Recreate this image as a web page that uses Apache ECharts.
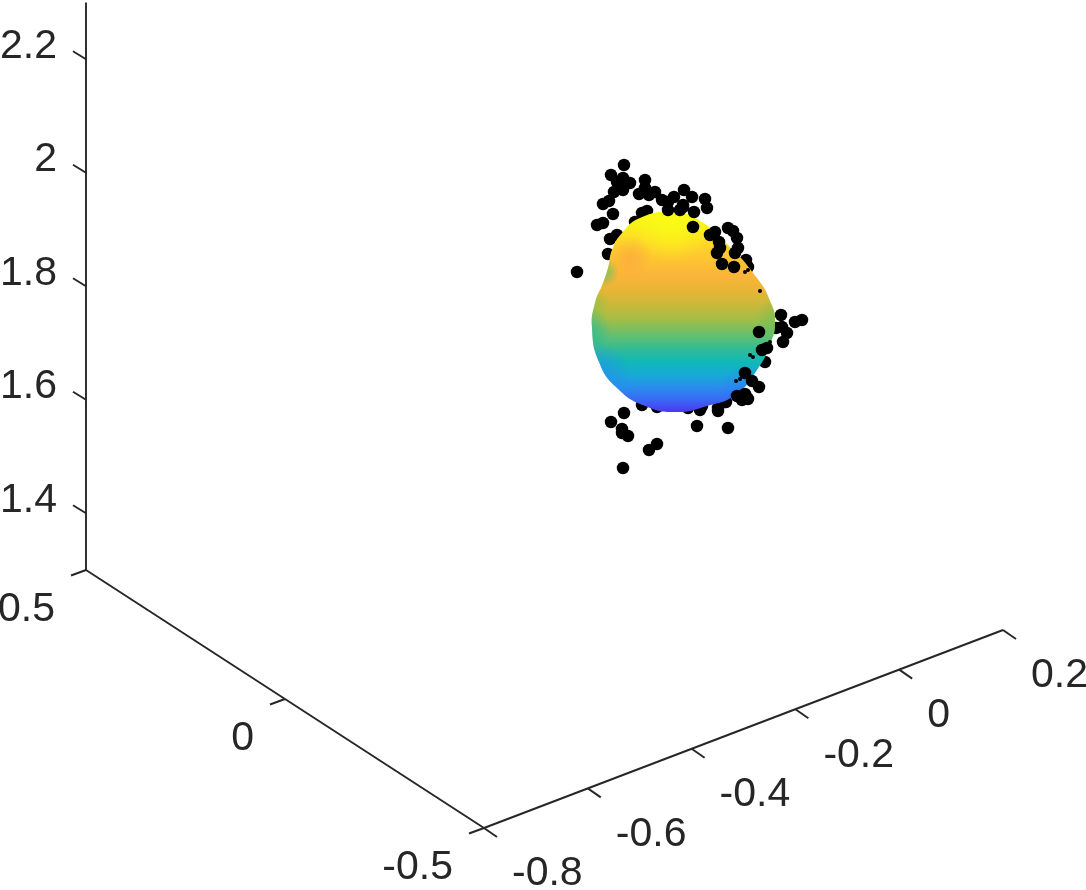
<!DOCTYPE html>
<html>
<head>
<meta charset="utf-8">
<style>html,body{margin:0;padding:0;background:#fff}#c{width:1086px;height:890px}</style>
<script src="https://cdn.jsdelivr.net/npm/echarts@6/dist/echarts.min.js"></script>
</head>
<body>
<div id="c"></div>
<script>
// Axis tick values and labels
const xTicks = [-0.8, -0.6, -0.4, -0.2, 0, 0.2];
const yTicks = [0.5, 0, -0.5];
const zTicks = [1.4, 1.6, 1.8, 2, 2.2];
const xLabels = ['-0.8', '-0.6', '-0.4', '-0.2', '0', '0.2'];
const yLabels = ['0.5', '0', '-0.5'];
const zLabels = ['1.4', '1.6', '1.8', '2', '2.2'];

// Point cloud, in view-plane units (h across, v down)
const behindH = [624,611,623,630,617,623,614,609,603,613,603,597,617,610,608,577,645,645,639,649,655,662,674,684,683,647,642,635,692,705,707,728,733,737,738,746,748,781,802,795,776,782,787,783,765,759,725,718,700,624,611,622,628,622,657,649,623,697,728,642,657,688,702,726];
const behindV = [165,175,178,183,182,190,192,201,204,214,223,225,235,239,254,272,180,188,194,195,192,200,197,190,207,211,213,222,197,199,208,228,231,238,248,260,267,315,320,322,328,327,333,342,362,387,402,408,410,413,422,429,436,433,444,450,468,426,428,405,407,408,406,402];
const frontH = [668,668,680,683,694,693,710,715,719,720,717,722,734,735,759,762,767,745,752,747,740,742,737,748,745,718];
const frontV = [202,210,210,205,212,227,235,232,242,248,253,264,267,253,332,350,348,373,381,398,397,400,396,399,394,411];
const sliverH = [760,745,748,770,753,750,740,736];
const sliverV = [291,272,270,342,357,355,379,381];

// Outline of the surface
const surfaceH = [672,695,725,757,771,775,771,757,735,707,677,645,617,599,592,595,603,608,612,622,640];
const surfaceV = [212,218,242,278,303,322,342,370,395,406,412,406,388,362,328,303,283,268,250,233,218];

// View: projection of data units to the view plane
const view = {ox:484, oy:828, xh:519, xv:-198, yh:-398, yv:-258, zv:-567.5, xMin:-0.8, xMax:0.2, yMin:-0.5, yMax:0.5, zMin:1.3, zMax:2.3};
function project(x, y, z) {
  const dx = x - view.xMin, dy = y - view.yMin, dz = z - view.zMin;
  return [view.ox + view.xh*dx + view.yh*dy, view.oy + view.xv*dx + view.yv*dy + view.zv*dz];
}

const segments = [];
const texts = [];
function seg(a, d) { segments.push([a[0], a[1], a[0]+d[0], a[1]+d[1]]); }
{
  const a = project(view.xMin, view.yMin, view.zMin), b = project(view.xMax, view.yMin, view.zMin),
        c = project(view.xMin, view.yMax, view.zMin), d = project(view.xMin, view.yMax, view.zMax);
  segments.push([a[0],a[1],b[0],b[1]], [a[0],a[1],c[0],c[1]], [c[0],c[1],d[0],d[1]]);
  xTicks.forEach((t,i)=>{ const p=project(t,view.yMin,view.zMin); seg(p,[13,9]); texts.push([p[0]+28,p[1]+46,xLabels[i],'left']); });
  yTicks.forEach((t,i)=>{ const p=project(view.xMin,t,view.zMin); seg(p,[-15,5.5]); texts.push([p[0]-31,p[1]+40,yLabels[i],'right']); });
  zTicks.forEach((t,i)=>{ const p=project(view.xMin,view.yMax,t); seg(p,[-13,-8]); texts.push([p[0]-29,p[1]-13,zLabels[i],'right']); });
}

// Surface colouring
const heightStops = [
  [0,'#f8fb14'],[0.07,'#f9f01a'],[0.14,'#fddc26'],[0.22,'#fdc830'],[0.32,'#fbb43a'],[0.39,'#e8b535'],
  [0.47,'#c8b93a'],[0.54,'#a0be48'],[0.62,'#62c070'],[0.69,'#30bb98'],[0.75,'#10b8b8'],[0.82,'#18a8d8'],
  [0.88,'#2a8cee'],[0.94,'#3a68f5'],[1,'#4a38f0']
];
const shades = [
  {c:[672,224], r:38, rgb:'250,252,20', a:0.8},
  {c:[630,258], r:22, rgb:'252,170,60', a:0.8},
  {c:[604,272], r:15, rgb:'110,195,90', a:0.9},
  {c:[590,305], r:20, rgb:'130,195,80', a:0.7},
  {c:[585,332], r:26, rgb:'30,185,160', a:0.8},
  {c:[598,375], r:32, rgb:'40,140,240', a:0.7},
  {c:[782,322], r:28, rgb:'90,190,90', a:0.55},
  {c:[745,395], r:30, rgb:'50,110,245', a:0.4}
];

function ptsOf(h, v) { return h.map((x,i)=>[x, v[i]]); }
function dotSeries(h, v, size, z) {
  return {type:'scatter', data:ptsOf(h,v), symbol:'circle', symbolSize:size, z:z, silent:true,
          itemStyle:{color:'#000', opacity:1}, clip:false};
}

const chart = echarts.init(document.getElementById('c'), null, {renderer:'canvas'});
chart.setOption({
  animation:false,
  backgroundColor:'#fff',
  grid:{left:0, right:0, top:0, bottom:0},
  xAxis:{type:'value', min:0, max:1086, show:false},
  yAxis:{type:'value', min:0, max:890, inverse:true, show:false},
  tooltip:{show:false},
  series:[
    {type:'custom', z:1, silent:true, clip:false, data:segments, encode:{x:[0,2], y:[1,3]},
     renderItem:(p,api)=>{
       const a=api.coord([api.value(0),api.value(1)]), b=api.coord([api.value(2),api.value(3)]);
       return {type:'line', shape:{x1:a[0],y1:a[1],x2:b[0],y2:b[1]}, style:{stroke:'#262626', lineWidth:1.9, fill:null}};
     }},
    {type:'custom', z:1, silent:true, clip:false, data:texts.map(t=>[t[0],t[1]]), encode:{x:0,y:1},
     renderItem:(p,api)=>{
       const a=api.coord([api.value(0),api.value(1)]), t=texts[p.dataIndex];
       return {type:'text', x:a[0], y:a[1], style:{text:t[2], align:t[3], verticalAlign:'middle', fill:'#262626', font:'41px "Liberation Sans", Arial, sans-serif'}};
     }},
    dotSeries(behindH, behindV, 12.5, 2),
    {type:'custom', z:3, silent:true, clip:false, data:ptsOf(surfaceH,surfaceV), encode:{x:0,y:1},
     renderItem:(p,api)=>{
       if (p.dataIndex!==0) return {type:'group', children:[]};
       const pts = surfaceH.map((h,i)=>api.coord([h,surfaceV[i]]));
       const base = {type:'polygon', shape:{points:pts, smooth:0.5},
         style:{fill:new echarts.graphic.LinearGradient(0,0,0,1,heightStops.map(s=>({offset:s[0],color:s[1]})))}};
       const overlays = shades.map(s=>{
         const c = api.coord(s.c);
         return {type:'polygon', shape:{points:pts, smooth:0.5},
           style:{fill:new echarts.graphic.RadialGradient(c[0],c[1],s.r,[
             {offset:0,color:`rgba(${s.rgb},${s.a})`},{offset:0.5,color:`rgba(${s.rgb},${s.a*0.55})`},{offset:1,color:`rgba(${s.rgb},0)`}],true)}};
       });
       return {type:'group', children:[base].concat(overlays)};
     }},
    dotSeries(frontH, frontV, 12.5, 4),
    dotSeries(sliverH, sliverV, 4, 4)
  ]
});
</script>
</body>
</html>
